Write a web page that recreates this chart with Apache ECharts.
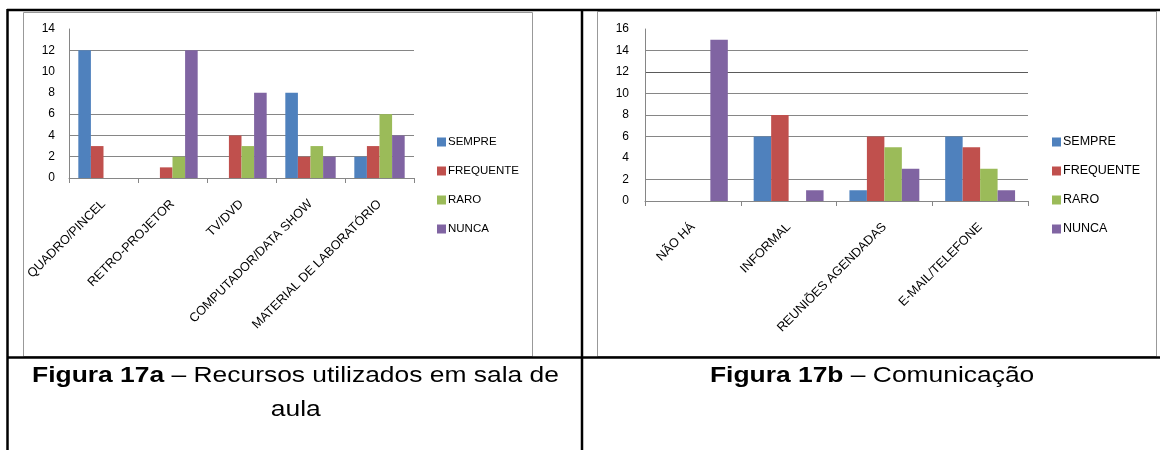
<!DOCTYPE html>
<html lang="pt">
<head>
<meta charset="utf-8">
<title>Figura 17a / 17b</title>
<script src="https://cdn.jsdelivr.net/npm/echarts@6/dist/echarts.min.js"></script>
<style>
  html, body { margin: 0; padding: 0; background: #fff; }
  #wrap { position: relative; width: 1160px; height: 450px; overflow: hidden; }
  #chart { position: absolute; left: 0; top: 0; width: 1160px; height: 450px; }
  .cap {
    position: absolute; top: 358px; text-align: center;
    font-family: "Liberation Sans", Arial, sans-serif; font-size: 22px; line-height: 34px; color: #000;
  }
  .cap span { display: inline-block; transform: scaleX(1.2); transform-origin: center; }
  .cap b { font-weight: bold; }
</style>
</head>
<body>
<div id="wrap">
  <div id="chart"></div>
  <div class="cap" style="left:8px; width:575px;">
    <span><b>Figura 17a</b> – Recursos utilizados em sala de</span><br><span>aula</span>
  </div>
  <div class="cap" style="left:584px; width:576px;">
    <span><b>Figura 17b</b> – Comunicação</span>
  </div>
</div>
<script>
// Series names shared by both charts
const seriesNames = ['SEMPRE', 'FREQUENTE', 'RARO', 'NUNCA'];
const seriesColors = ['#4F81BD', '#C0504D', '#9BBB59', '#8064A2'];

// Figura 17a – Recursos utilizados em sala de aula
const categoriesA = ['QUADRO/PINCEL', 'RETRO-PROJETOR', 'TV/DVD', 'COMPUTADOR/DATA SHOW', 'MATERIAL DE LABORATÓRIO'];
const sempreA    = [12, 0, 0, 8, 2];
const frequenteA = [3, 1, 4, 2, 3];
const raroA      = [0, 2, 3, 3, 6];
const nuncaA     = [0, 12, 8, 2, 4];

// Figura 17b – Comunicação
const categoriesB = ['NÃO HÁ', 'INFORMAL', 'REUNIÕES AGENDADAS', 'E-MAIL/TELEFONE'];
const sempreB    = [0, 6, 1, 6];
const frequenteB = [0, 8, 6, 5];
const raroB      = [0, 0, 5, 3];
const nuncaB     = [15, 1, 3, 1];

// Value-axis ranges
const yMaxA = 14, yMaxB = 16, yStep = 2;

const GRID = '#868686';
const NONE = 'rgba(0,0,0,0)';
const sans = '"Liberation Sans", Arial, sans-serif';

function bars(values, gridIdx) {
  return values.map((v, i) => ({
    name: seriesNames[i],
    type: 'bar',
    xAxisIndex: gridIdx,
    yAxisIndex: gridIdx,
    data: v,
    barGap: '0%',
    barCategoryGap: '27%',
    itemStyle: { color: seriesColors[i] },
    emphasis: { disabled: true },
    animation: false
  }));
}

function xAxis(cats, gridIdx, margin) {
  return {
    type: 'category', gridIndex: gridIdx, data: cats,
    axisLine: { lineStyle: { color: GRID, width: 1 } },
    axisTick: { show: true, length: 5, lineStyle: { color: GRID } },
    axisLabel: { interval: 0, rotate: 45, margin: margin, color: '#000', fontFamily: sans, fontSize: 12.6 }
  };
}

function yAxis(max, gridIdx, lineColors, margin) {
  return {
    type: 'value', gridIndex: gridIdx, min: 0, max: max, interval: yStep,
    axisLine: { show: true, lineStyle: { color: GRID, width: 1 } },
    axisTick: { show: false },
    axisLabel: { color: '#000', fontFamily: sans, fontSize: 12, margin: margin },
    splitLine: { show: true, lineStyle: { color: lineColors, width: 1 } }
  };
}

function legend(left, size) {
  return {
    orient: 'vertical', left: left, top: 134, padding: 0,
    icon: 'rect', itemWidth: 9, itemHeight: 9, itemGap: 13,
    selectedMode: false,
    data: seriesNames,
    textStyle: { fontFamily: sans, fontSize: size, lineHeight: 16, color: '#000', padding: [0, 0, 0, -3] }
  };
}

// Rule and frame shapes of the surrounding table
function rect(x, y, w, h, stroke, lw) {
  return { type: 'rect', silent: true, shape: { x: x, y: y, width: w, height: h },
           style: { fill: 'none', stroke: stroke, lineWidth: lw } };
}
function line(x1, y1, x2, y2, lw) {
  return { type: 'line', silent: true, shape: { x1: x1, y1: y1, x2: x2, y2: y2 },
           style: { stroke: '#000', lineWidth: lw } };
}

const chart = echarts.init(document.getElementById('chart'), null, { renderer: 'canvas' });
chart.setOption({
  backgroundColor: '#fff',
  animation: false,
  grid: [
    { left: 69, right: 746, top: 29, bottom: 272 },
    { left: 645, right: 132, top: 29, bottom: 249 }
  ],
  xAxis: [xAxis(categoriesA, 0, 24), xAxis(categoriesB, 1, 24)],
  yAxis: [
    yAxis(yMaxA, 0, [GRID, GRID, GRID, GRID, NONE, NONE, GRID, NONE], 14),
    yAxis(yMaxB, 1, [GRID, GRID, NONE, GRID, GRID, GRID, '#5a5a5a', GRID, NONE], 16)
  ],
  legend: [legend(437, 11.5), legend(1052, 12.5)],
  series: bars([sempreA, frequenteA, raroA, nuncaA], 0).concat(bars([sempreB, frequenteB, raroB, nuncaB], 1)),
  graphic: [
    rect(23.5, 12.5, 509, 344, '#999999', 1),
    rect(597.5, 11.5, 559, 345, '#999999', 1),
    line(7, 10, 1160, 10, 2.5),
    line(7, 357.5, 1160, 357.5, 2.5),
    line(7.5, 9, 7.5, 450, 2.5),
    line(582, 9, 582, 450, 2.5)
  ]
});
</script>
</body>
</html>
